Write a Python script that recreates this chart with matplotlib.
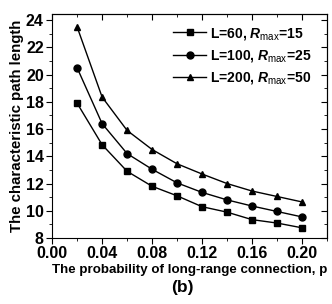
import matplotlib
matplotlib.use('Agg')
from matplotlib import pyplot as plt
from matplotlib.ticker import MultipleLocator

plt.rcParams['font.family'] = 'Liberation Sans'
plt.rcParams['font.weight'] = 'bold'
plt.rcParams['mathtext.fontset'] = 'custom'
plt.rcParams['mathtext.it'] = 'Liberation Sans:italic:bold'
plt.rcParams['mathtext.rm'] = 'Liberation Sans:normal'
plt.rcParams['mathtext.bf'] = 'Liberation Sans:bold'

p = [0.02, 0.04, 0.06, 0.08, 0.10, 0.12, 0.14, 0.16, 0.18, 0.20]
l60 = [17.9, 14.85, 12.9, 11.8, 11.1, 10.3, 9.9, 9.35, 9.1, 8.75]
l100 = [20.5, 16.4, 14.2, 13.05, 12.05, 11.35, 10.8, 10.35, 9.95, 9.55]
l200 = [23.5, 18.35, 15.9, 14.5, 13.45, 12.7, 12.0, 11.45, 11.05, 10.65]
labels = [r'L=60, $R_{\rm max}$=15', r'L=100, $R_{\rm max}$=25', r'L=200, $R_{\rm max}$=50']

fig = plt.figure(figsize=(3.32, 3.04), dpi=100)
ax = fig.add_axes([0.157, 0.217, 0.828, 0.737])

ax.plot(p, l60, 'k-s', ms=4.5, lw=1, label=labels[0])
ax.plot(p, l100, 'k-o', ms=5, lw=1, label=labels[1])
ax.plot(p, l200, 'k-^', ms=5, lw=1, label=labels[2])

ax.set_xlim(0, 0.22)
ax.set_ylim(8, 24.45)
ax.xaxis.set_minor_locator(MultipleLocator(0.02))
ax.yaxis.set_major_locator(MultipleLocator(2))
ax.yaxis.set_minor_locator(MultipleLocator(1))
ax.set_xticks([0.0, 0.04, 0.08, 0.12, 0.16, 0.20])
ax.set_xticklabels(['0.00', '0.04', '0.08', '0.12', '0.16', '0.20'])

ax.tick_params(which='both', direction='out', labelsize=11.5, top=False, right=False)
ax.tick_params(which='major', length=4)
ax.tick_params(which='minor', length=2)
ax.tick_params(axis='x', pad=2)
ax.tick_params(axis='y', pad=2)
for lab in ax.get_xticklabels() + ax.get_yticklabels():
    lab.set_fontweight('bold')

# mirrored inward ticks on top and right
ax2 = ax.secondary_xaxis('top')
ax2.set_xticks([0.0, 0.04, 0.08, 0.12, 0.16, 0.20])
ax2.xaxis.set_minor_locator(MultipleLocator(0.02))
ax2.tick_params(which='both', direction='in', labeltop=False)
ax2.tick_params(which='major', length=4)
ax2.tick_params(which='minor', length=2)
ax3 = ax.secondary_yaxis('right')
ax3.yaxis.set_major_locator(MultipleLocator(2))
ax3.yaxis.set_minor_locator(MultipleLocator(1))
ax3.tick_params(which='both', direction='in', labelright=False)
ax3.tick_params(which='major', length=4)
ax3.tick_params(which='minor', length=2)

ax.set_xlabel('The probability of long-range connection, p', fontsize=9.6, fontweight='bold', labelpad=2)
ax.set_ylabel('The characteristic path length', fontsize=10.8, fontweight='bold', labelpad=1)
fig.text(0.548, 0.04, '(b)', fontsize=12.5, fontweight='bold', ha='center')

ax.legend(loc='upper right', frameon=False, fontsize=10, handlelength=2.4,
          handletextpad=0.3, labelspacing=0.45, borderaxespad=0.2,
          bbox_to_anchor=(0.975, 0.985))

plt.savefig('out.png', dpi=100)
